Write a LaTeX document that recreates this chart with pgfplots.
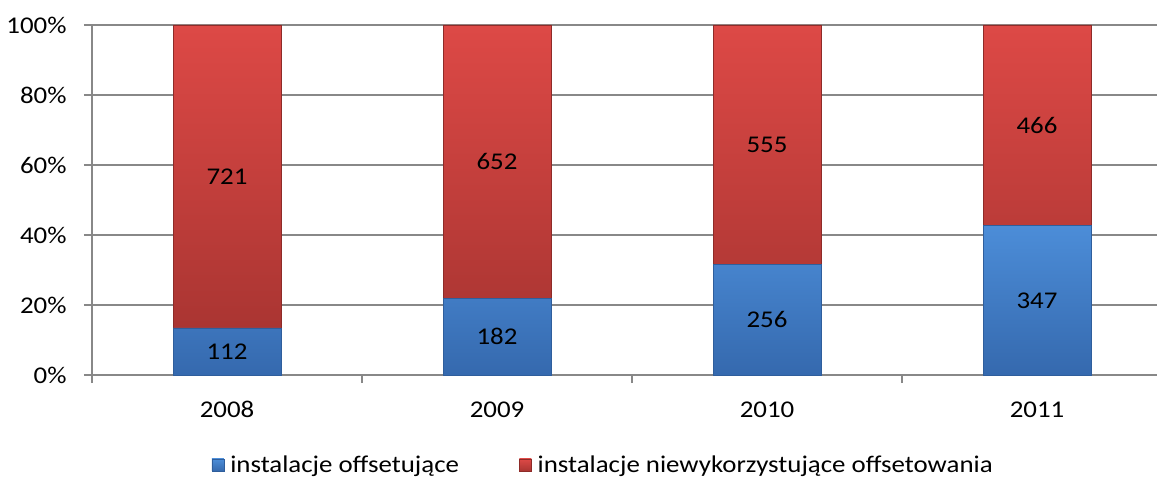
\documentclass[border=0pt]{standalone}
\usepackage{pgfplots}
\pgfplotsset{compat=1.18}
\usepackage{pgfplotstable}
\usepackage{fontspec}
\setmainfont{Carlito}[FakeStretch=1.12]
\definecolor{gridgray}{HTML}{888888}
\definecolor{bluetop}{HTML}{4C8DD8}
\definecolor{bluebot}{HTML}{3569AE}
\definecolor{blueedge}{HTML}{2F5E9C}
\definecolor{redtop}{HTML}{DD4946}
\definecolor{redbot}{HTML}{AA3532}
\definecolor{rededge}{HTML}{8E2B28}
\pgfplotstableread{
x pct count
0.5 13.45 112
1.5 21.82 182
2.5 31.57 256
3.5 42.68 347
}\offs
\pgfplotstableread{
x pct count
0.5 86.55 721
1.5 78.18 652
2.5 68.43 555
3.5 57.32 466
}\nonoffs
\newcommand{\cf}{\fontsize{24}{28}\selectfont}
\begin{document}
\begin{tikzpicture}[x=1pt,y=1pt]
\useasboundingbox (-92,-102) rectangle (1065,375);
\begin{axis}[
  at={(0,0)}, anchor=south west,
  scale only axis, width=1065pt, height=350pt,
  xmin=0, xmax=3.9444, ymin=0, ymax=100,
  ybar stacked, bar width=108pt,
  axis x line*=bottom, axis y line*=left,
  axis line style={draw=gridgray, line width=1.2pt, -},
  xtick={0.5,1.5,2.5,3.5},
  xticklabels={2008,2009,2010,2011},
  major x tick style={draw=none},
  minor xtick={0,1,2,3},
  minor x tick style={draw=gridgray, line width=1.2pt},
  minor tick length=8pt,
  ytick={0,20,40,60,80,100},
  yticklabel={\pgfmathprintnumber[assume math mode=true]{\tick}\%},
  major y tick style={draw=gridgray, line width=1.2pt},
  major tick length=8pt,
  tick align=outside,
  ymajorgrids,
  grid style={draw=gridgray, line width=1.2pt},
  tick label style={font=\cf, text=black},
  xticklabel style={yshift=-15pt},
  yticklabel style={xshift=-14pt},
  nodes near coords,
  point meta=explicit symbolic,
  every node near coord/.append style={anchor=center, font=\cf, text=black},
  legend columns=2,
  legend style={at={(0.480,-0.257)}, anchor=center, draw=none, fill=none,
     font=\cf, /tikz/every even column/.append style={column sep=58pt}},
  legend image code/.code={\path[#1] (0pt,-6pt) rectangle (12pt,6pt); \path (16pt,0pt);},
]
\addplot[top color=bluetop, bottom color=bluebot, draw=blueedge, line width=0.6pt]
  table[x=x, y=pct, meta=count] {\offs};
\addlegendentry{instalacje offsetujące}
\addplot[top color=redtop, bottom color=redbot, draw=rededge, line width=0.6pt]
  table[x=x, y=pct, meta=count] {\nonoffs};
\addlegendentry{instalacje niewykorzystujące offsetowania}
\end{axis}
\end{tikzpicture}
\end{document}
